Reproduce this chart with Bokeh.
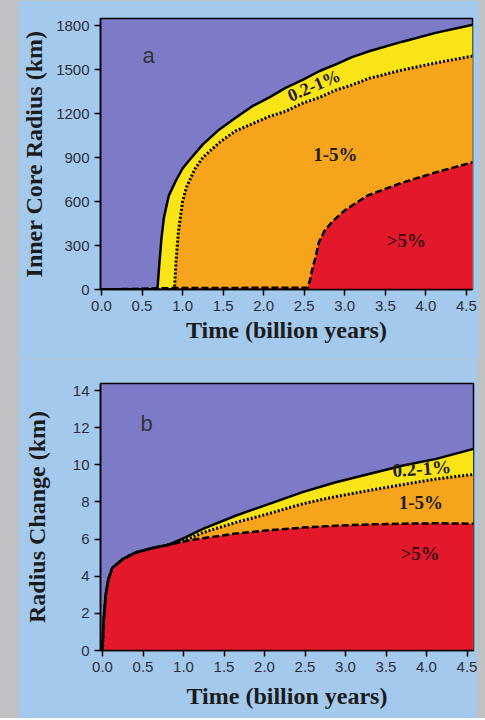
from bokeh.plotting import figure
from bokeh.layouts import column, row
from bokeh.models import FixedTicker, Label, NumeralTickFormatter, Spacer
from bokeh.embed import file_html
from bokeh.resources import INLINE
import math

# ---------------- data: panel a (inner core radius, km) ----------------
a_solid_t = [0, 0.69, 0.71, 0.74, 0.77, 0.83, 0.92, 1.0, 1.08, 1.25, 1.45, 1.65, 1.86, 2.07,
             2.27, 2.48, 2.69, 2.89, 3.09, 3.30, 3.71, 4.12, 4.58]
a_solid_r = [0, 0, 150, 350, 490, 640, 745, 825, 880, 990, 1090, 1170, 1250, 1310,
             1375, 1430, 1490, 1535, 1585, 1625, 1690, 1750, 1805]

a_dot_t = [0, 0.90, 0.92, 0.95, 1.0, 1.05, 1.15, 1.25, 1.45, 1.65, 1.86, 2.07, 2.27, 2.48,
           2.69, 2.89, 3.09, 3.30, 3.71, 4.12, 4.58]
a_dot_r = [0, 0, 200, 400, 600, 700, 820, 900, 1000, 1080, 1130, 1180, 1215, 1270,
           1310, 1360, 1395, 1440, 1497, 1545, 1592]

a_dash_t = [0, 0.90, 2.54, 2.57, 2.60, 2.64, 2.68, 2.75, 2.85, 3.0, 3.28, 3.69, 4.1, 4.58]
a_dash_r = [0, 10, 12, 60, 140, 220, 320, 400, 465, 540, 640, 725, 795, 868]

# ---------------- data: panel b (radius change, km) ----------------
b_t = [0, 0.01, 0.04, 0.07, 0.12, 0.25, 0.41, 0.62, 0.82, 1.03, 1.24, 1.65, 2.06, 2.47,
       2.88, 3.29, 3.71, 4.12, 4.58]
b_dash = [0, 1.4, 3.0, 3.8, 4.45, 4.92, 5.28, 5.52, 5.70, 5.90, 6.05, 6.30, 6.48, 6.62,
          6.72, 6.79, 6.83, 6.85, 6.83]
b_dot = [0, 1.4, 3.0, 3.8, 4.45, 4.92, 5.28, 5.52, 5.70, 5.95, 6.35, 6.90, 7.38, 7.90,
         8.29, 8.62, 8.94, 9.24, 9.48]
b_solid = [0, 1.4, 3.0, 3.8, 4.45, 4.92, 5.28, 5.52, 5.70, 6.10, 6.55, 7.27, 7.90, 8.53,
           9.06, 9.51, 9.96, 10.32, 10.86]

x_ticks = [0, 0.5, 1.0, 1.5, 2.0, 2.5, 3.0, 3.5, 4.0, 4.5]
a_y_ticks = [0, 300, 600, 900, 1200, 1500, 1800]
b_y_ticks = [0, 2, 4, 6, 8, 10, 12, 14]

x_title = "Time (billion years)"
a_y_title = "Inner Core Radius (km)"
b_y_title = "Radius Change (km)"
zone_labels = ["0.2-1%", "1-5%", ">5%"]

PAGE_BG = "#A3C9EC"
SIDE_BG = "#BFC1C3"
PURPLE = "#7D7BC8"
YELLOW = "#F9E418"
ORANGE = "#F5A41C"
RED = "#E4182B"
INK = "#1c1c1c"
TICK_INK = "#2e2e38"
SERIF = "Liberation Serif"
SANS = "Liberation Sans"


def make_fig(x_range, y_range, y_ticks, y_title, top, fh, bottom, fw, right, y_standoff, x_standoff):
    p = figure(output_backend="svg", toolbar_location=None,
               frame_width=fw, frame_height=fh,
               min_border_left=80, min_border_right=right,
               min_border_top=top, min_border_bottom=bottom,
               x_range=x_range, y_range=y_range)
    p.background_fill_color = PURPLE
    p.border_fill_color = PAGE_BG
    p.outline_line_color = "black"
    p.outline_line_width = 1.5
    p.grid.visible = False
    for ax in (p.xaxis[0], p.yaxis[0]):
        ax.axis_line_color = "black"
        ax.axis_line_width = 1.5
        ax.major_tick_line_color = "black"
        ax.major_tick_line_width = 1.5
        ax.major_tick_in = 0
        ax.major_tick_out = 6
        ax.minor_tick_line_color = None
        ax.major_label_text_font = SANS
        ax.major_label_text_font_size = "15px"
        ax.major_label_text_color = TICK_INK
        ax.axis_label_text_font = SERIF
        ax.axis_label_text_font_style = "bold"
        ax.axis_label_text_font_size = "24px"
        ax.axis_label_text_color = INK
    p.xaxis.ticker = FixedTicker(ticks=x_ticks)
    p.xaxis.formatter = NumeralTickFormatter(format="0.0")
    p.xaxis.major_label_standoff = 5
    p.xaxis.axis_label = x_title
    p.xaxis.axis_label_standoff = x_standoff
    p.yaxis.ticker = FixedTicker(ticks=y_ticks)
    p.yaxis.major_label_standoff = 5
    p.yaxis.axis_label = y_title
    p.yaxis.axis_label_standoff = y_standoff
    return p


def add_curves(p, st, sr, dt, dr, ht, hr):
    p.varea(x=st, y1=[0] * len(st), y2=sr, fill_color=YELLOW)
    p.varea(x=dt, y1=[0] * len(dt), y2=dr, fill_color=ORANGE)
    p.varea(x=ht, y1=[0] * len(ht), y2=hr, fill_color=RED)
    p.line(ht, hr, line_color="black", line_width=2.5, line_dash="7 3")
    p.line(dt, dr, line_color="black", line_width=3, line_dash="2 2")
    p.line(st, sr, line_color="black", line_width=2.5)


def add_label(p, x, y, text, size, font=SERIF, style="bold", angle=0.0, color=INK,
              align="center", baseline="middle"):
    p.add_layout(Label(x=x, y=y, text=text, text_font=font, text_font_style=style,
                       text_font_size=size, text_color=color, angle=angle,
                       text_align=align, text_baseline=baseline))


# ---------------- panel a ----------------
pa = make_fig((-0.012, 4.575), (0, 1848), a_y_ticks, a_y_title,
              top=18, fh=271, bottom=69, fw=372, right=7, y_standoff=6, x_standoff=3)
add_curves(pa, a_solid_t, a_solid_r, a_dot_t, a_dot_r, a_dash_t, a_dash_r)
add_label(pa, 0.505, 1595, "a", "22px", font=SANS, style="normal", color="#333333",
          align="left", baseline="alphabetic")
add_label(pa, 2.62, 1391, zone_labels[0], "18px", angle=math.radians(23))
add_label(pa, 2.885, 920, zone_labels[1], "19px")
add_label(pa, 3.76, 334, zone_labels[2], "19px", color="#3a0c12")

# ---------------- panel b ----------------
pb = make_fig((-0.025, 4.58), (0, 14.38), b_y_ticks, b_y_title,
              top=25, fh=267, bottom=68, fw=373, right=6, y_standoff=20, x_standoff=8)
add_curves(pb, b_t, b_solid, b_t, b_dot, b_t, b_dash)
add_label(pb, 0.47, 12.22, "b", "22px", font=SANS, style="normal", color="#333333",
          align="left", baseline="alphabetic")
add_label(pb, 3.94, 9.8, zone_labels[0], "19px", angle=math.radians(4))
add_label(pb, 3.93, 7.97, zone_labels[1], "19px")
add_label(pb, 3.92, 5.22, zone_labels[2], "19px", color="#3a0c12")

left_strip = Spacer(width=18, height=718)
right_strip = Spacer(width=8, height=718)
layout = row(left_strip, column(pa, pb, spacing=0), right_strip, spacing=0,
             styles={"background-color": SIDE_BG})
open("out.html", "w").write(file_html(layout, INLINE))
